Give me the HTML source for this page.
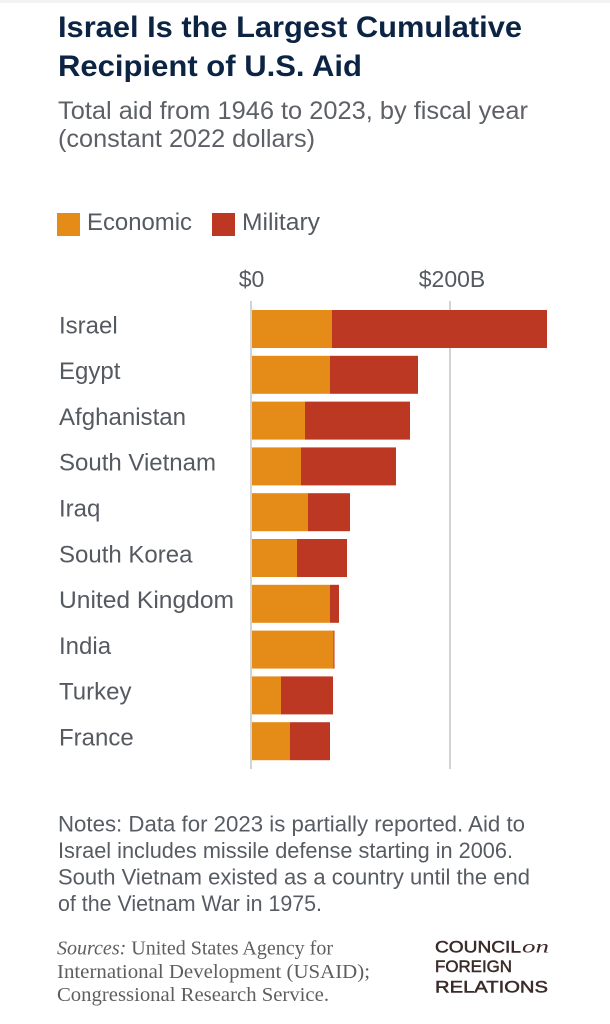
<!DOCTYPE html>
<html>
<head>
<meta charset="utf-8">
<style>
  html, body { margin: 0; padding: 0; background: #ffffff; }
  svg { display: block; }
</style>
</head>
<body>
<svg width="610" height="1024" viewBox="0 0 610 1024" xmlns="http://www.w3.org/2000/svg">
  <rect x="0" y="0" width="610" height="1024" fill="#ffffff"/>
  <rect x="0" y="0" width="610" height="3" fill="#f3f3f3"/>

  <!-- Title -->
  <g font-family="'Liberation Sans', Arial, sans-serif" font-weight="bold" font-size="30" fill="#0c2444">
    <text x="58" y="37" textLength="464" lengthAdjust="spacingAndGlyphs">Israel Is the Largest Cumulative</text>
    <text x="58" y="76" textLength="304" lengthAdjust="spacingAndGlyphs">Recipient of U.S. Aid</text>
  </g>

  <!-- Subtitle -->
  <g font-family="'Liberation Sans', Arial, sans-serif" font-size="25" fill="#5d6167">
    <text x="58" y="119" textLength="470" lengthAdjust="spacingAndGlyphs">Total aid from 1946 to 2023, by fiscal year</text>
    <text x="58" y="147" textLength="257" lengthAdjust="spacingAndGlyphs">(constant 2022 dollars)</text>
  </g>

  <!-- Legend -->
  <rect x="57" y="213" width="23" height="23" fill="#e58b17"/>
  <rect x="212" y="213" width="23" height="23" fill="#bc3823"/>
  <g font-family="'Liberation Sans', Arial, sans-serif" font-size="24" fill="#555a61">
    <text x="87" y="230" textLength="105" lengthAdjust="spacingAndGlyphs">Economic</text>
    <text x="242" y="230" textLength="78" lengthAdjust="spacingAndGlyphs">Military</text>
  </g>

  <!-- Axis labels -->
  <g font-family="'Liberation Sans', Arial, sans-serif" font-size="23" fill="#555a61" text-anchor="middle">
    <text x="251.5" y="287">$0</text>
    <text x="452" y="287">$200B</text>
  </g>

  <!-- Gridlines -->
  <rect x="250" y="301" width="2" height="468" fill="#d3d3d3"/>
  <rect x="449" y="301" width="2" height="468" fill="#d3d3d3"/>

  <!-- Bars -->
  <g>
    <rect x="252" y="310" width="80" height="38" fill="#e58b17"/>
    <rect x="332" y="310" width="215" height="38" fill="#bc3823"/>
    <rect x="252" y="355.8" width="78" height="38" fill="#e58b17"/>
    <rect x="330" y="355.8" width="88" height="38" fill="#bc3823"/>
    <rect x="252" y="401.6" width="53" height="38" fill="#e58b17"/>
    <rect x="305" y="401.6" width="105" height="38" fill="#bc3823"/>
    <rect x="252" y="447.4" width="49" height="38" fill="#e58b17"/>
    <rect x="301" y="447.4" width="95" height="38" fill="#bc3823"/>
    <rect x="252" y="493.2" width="56" height="38" fill="#e58b17"/>
    <rect x="308" y="493.2" width="42" height="38" fill="#bc3823"/>
    <rect x="252" y="539" width="45" height="38" fill="#e58b17"/>
    <rect x="297" y="539" width="50" height="38" fill="#bc3823"/>
    <rect x="252" y="584.8" width="78" height="38" fill="#e58b17"/>
    <rect x="330" y="584.8" width="9" height="38" fill="#bc3823"/>
    <rect x="252" y="630.6" width="81.5" height="38" fill="#e58b17"/>
    <rect x="333.5" y="630.6" width="1" height="38" fill="#bc3823"/>
    <rect x="252" y="676.4" width="29" height="38" fill="#e58b17"/>
    <rect x="281" y="676.4" width="52" height="38" fill="#bc3823"/>
    <rect x="252" y="722.2" width="38" height="38" fill="#e58b17"/>
    <rect x="290" y="722.2" width="40" height="38" fill="#bc3823"/>
  </g>

  <!-- Category labels -->
  <g font-family="'Liberation Sans', Arial, sans-serif" font-size="24" fill="#555a61">
    <text x="59" y="333.3">Israel</text>
    <text x="59" y="379.1">Egypt</text>
    <text x="59" y="424.9" textLength="127" lengthAdjust="spacingAndGlyphs">Afghanistan</text>
    <text x="59" y="470.7">South Vietnam</text>
    <text x="59" y="516.5">Iraq</text>
    <text x="59" y="562.3">South Korea</text>
    <text x="59" y="608.1" textLength="175" lengthAdjust="spacingAndGlyphs">United Kingdom</text>
    <text x="59" y="653.9">India</text>
    <text x="59" y="699.7">Turkey</text>
    <text x="59" y="745.5">France</text>
  </g>

  <!-- Notes -->
  <g font-family="'Liberation Sans', Arial, sans-serif" font-size="22" fill="#575c63">
    <text x="58" y="831.5" textLength="467" lengthAdjust="spacingAndGlyphs">Notes: Data for 2023 is partially reported. Aid to</text>
    <text x="58" y="858" textLength="455" lengthAdjust="spacingAndGlyphs">Israel includes missile defense starting in 2006.</text>
    <text x="58" y="884.5" textLength="472" lengthAdjust="spacingAndGlyphs">South Vietnam existed as a country until the end</text>
    <text x="58" y="911" textLength="264" lengthAdjust="spacingAndGlyphs">of the Vietnam War in 1975.</text>
  </g>

  <!-- Sources -->
  <g font-family="'Liberation Serif', 'Times New Roman', serif" font-size="20.5" fill="#5e5e5e">
    <text x="57" y="954.5" textLength="276" lengthAdjust="spacingAndGlyphs"><tspan font-style="italic">Sources:</tspan> United States Agency for</text>
    <text x="57" y="978" textLength="313" lengthAdjust="spacingAndGlyphs">International Development (USAID);</text>
    <text x="57" y="1001" textLength="272" lengthAdjust="spacingAndGlyphs">Congressional Research Service.</text>
  </g>

  <!-- CFR logo -->
  <g font-family="'Liberation Sans', Arial, sans-serif" font-size="17" fill="#3a2a28" stroke="#3a2a28" stroke-width="0.5">
    <text x="435" y="952.5" textLength="86" lengthAdjust="spacingAndGlyphs">COUNCIL</text>
    <text x="435" y="972" textLength="77" lengthAdjust="spacingAndGlyphs">FOREIGN</text>
    <text x="435" y="992.5" textLength="113" lengthAdjust="spacingAndGlyphs">RELATIONS</text>
  </g>
  <text x="522" y="952.5" font-family="'Liberation Serif', 'Times New Roman', serif" font-style="italic" font-size="18" fill="#3a2a28" textLength="27" lengthAdjust="spacingAndGlyphs">on</text>
</svg>
</body>
</html>
